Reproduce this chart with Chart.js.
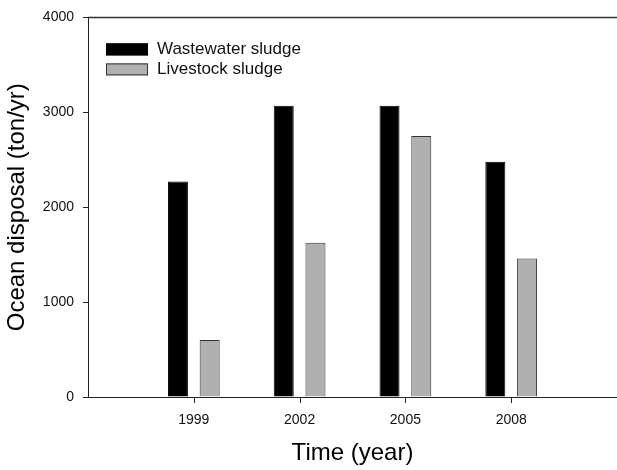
<!DOCTYPE html>
<html>
<head>
<meta charset="utf-8">
<script src="https://cdn.jsdelivr.net/npm/chart.js@4/dist/chart.umd.min.js"></script>
<style>
  html, body { margin: 0; padding: 0; background: #fff; overflow: hidden; }
  canvas { display: block; }
</style>
</head>
<body>
<!-- a few px wider than the window: the original figure is cut off on the right -->
<canvas id="barChart" width="622" height="470"></canvas>
<script>
var years = ["1999", "2002", "2005", "2008"];
var wastewater = [2270, 3070, 3070, 2480];
var livestock = [600, 1625, 2750, 1460];
var yTicks = [0, 1000, 2000, 3000, 4000];

// empty slot at each end so 1999 sits one step in from the y axis
var labels = [""].concat(years, [""]);
function pad(arr) {
    return [null].concat(arr, [null]);
}

var FONT = "'Liberation Sans', Arial, sans-serif";

// legend box in the top-left corner, top frame line, x tick marks
var boxLegend = {
    id: "boxLegend",
    afterDraw: function (chart) {
        var ctx = chart.ctx;
        var area = chart.chartArea;
        var xs = chart.scales.x;
        ctx.save();
        ctx.strokeStyle = "#333";
        ctx.lineWidth = 1.5;
        ctx.beginPath();
        ctx.moveTo(area.left, area.top);
        ctx.lineTo(chart.width, area.top);
        ctx.stroke();

        // tick marks under the year labels only
        ctx.strokeStyle = "#222";
        ctx.lineWidth = 1;
        ctx.beginPath();
        labels.forEach(function (l, i) {
            if (!l) return;
            var px = Math.round(xs.getPixelForTick(i)) + 0.5;
            ctx.moveTo(px, area.bottom);
            ctx.lineTo(px, area.bottom + 6);
        });
        ctx.stroke();

        ctx.font = "17px " + FONT;
        ctx.textBaseline = "middle";
        chart.data.datasets.forEach(function (ds, i) {
            var y = area.top + 32 + i * 20;
            ctx.fillStyle = ds.backgroundColor;
            ctx.fillRect(area.left + 18, y - 6, 42, 12);
            ctx.strokeStyle = ds.borderColor;
            ctx.strokeRect(area.left + 18.5, y - 5.5, 41, 11);
            ctx.fillStyle = "#111";
            ctx.fillText(ds.label, area.left + 69, y);
        });
        ctx.restore();
    },
};

var barChartData = {
    labels: labels,
    datasets: [
        {
            label: "Wastewater sludge",
            backgroundColor: "#000000",
            borderColor: "#000000",
            borderWidth: 1,
            data: pad(wastewater),
        },
        {
            label: "Livestock sludge",
            backgroundColor: "#b0b0b0",
            borderColor: "#333333",
            borderWidth: 1,
            data: pad(livestock),
        },
    ],
};

new Chart(document.getElementById("barChart"), {
    type: "bar",
    data: barChartData,
    plugins: [boxLegend],
    options: {
        responsive: false,
        animation: false,
        categoryPercentage: 0.6,
        barPercentage: 0.63,
        layout: { padding: { top: 13, right: 0, bottom: 0, left: 0 } },
        plugins: {
            legend: { display: false },
            tooltip: { enabled: false },
        },
        scales: {
            x: {
                type: "category",
                offset: false,
                afterFit: function (scale) {
                    scale.height = 73;
                },
                border: { display: true, color: "#222", width: 1 },
                grid: {
                    offset: false,
                    drawOnChartArea: false,
                    // invisible here; only pushes the labels down (marks drawn in plugin)
                    tickLength: 10,
                    tickColor: "rgba(0,0,0,0)",
                },
                ticks: {
                    autoSkip: false,
                    maxRotation: 0,
                    padding: 5,
                    color: "#111",
                    font: { family: FONT, size: 14 },
                },
                title: {
                    display: true,
                    text: "Time (year)",
                    color: "#000",
                    font: { family: FONT, size: 24 },
                    padding: { top: 0, bottom: 2 },
                },
            },
            y: {
                min: 0,
                max: 4000,
                afterFit: function (scale) {
                    scale.width = 88;
                },
                afterBuildTicks: function (scale) {
                    scale.ticks = yTicks.map(function (v) {
                        return { value: v };
                    });
                },
                border: { display: true, color: "#222", width: 1 },
                grid: {
                    drawOnChartArea: false,
                    tickLength: 5,
                    tickColor: "#222",
                },
                ticks: {
                    padding: 9,
                    color: "#111",
                    font: { family: FONT, size: 14 },
                    callback: function (v) {
                        return String(v);
                    },
                },
                title: {
                    display: true,
                    text: "Ocean disposal (ton/yr)",
                    color: "#000",
                    font: { family: FONT, size: 24 },
                    padding: { top: 3, bottom: 0 },
                },
            },
        },
    },
});
</script>
</body>
</html>
